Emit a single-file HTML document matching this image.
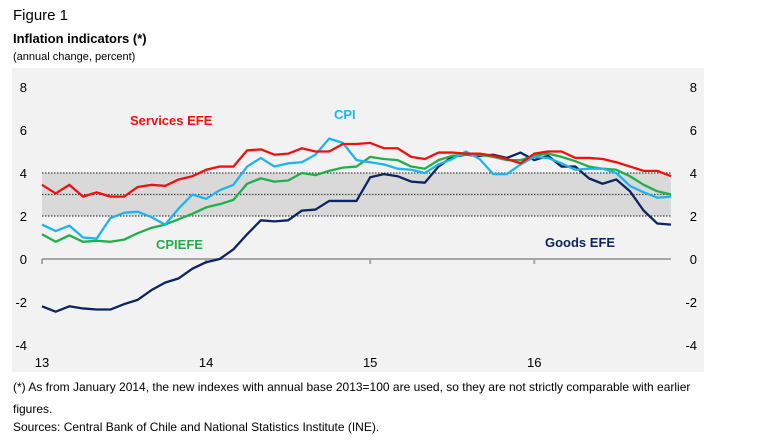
<!DOCTYPE html>
<html><head><meta charset="utf-8"><style>
body{margin:0;width:767px;height:445px;background:#fff;font-family:"Liberation Sans",sans-serif;position:relative;overflow:hidden}
.t{position:absolute;white-space:nowrap;color:#000}
</style></head><body>
<div class="t" style="left:13px;top:7px;font-size:15px">Figure 1</div>
<div class="t" style="left:13px;top:31px;font-size:13px;font-weight:bold">Inflation indicators (*)</div>
<div class="t" style="left:13px;top:51px;font-size:11px">(annual change, percent)</div>
<svg id="c" style="position:absolute;left:0;top:0" width="767" height="445"></svg>
<div class="t" style="left:13px;top:376px;font-size:12px;line-height:22px;white-space:normal;width:700px">(*) As from January 2014, the new indexes with annual base 2013=100 are used, so they are not strictly comparable with earlier figures.</div>
<div class="t" style="left:13px;top:420px;font-size:12px">Sources: Central Bank of Chile and National Statistics Institute (INE).</div>
<script>
const services=[3.45,3.05,3.45,2.9,3.1,2.9,2.9,3.35,3.45,3.4,3.7,3.85,4.15,4.3,4.3,5.05,5.1,4.85,4.9,5.15,5.0,5.0,5.35,5.35,5.4,5.15,5.15,4.75,4.65,4.95,4.95,4.9,4.9,4.8,4.65,4.45,4.9,5.0,5.0,4.7,4.7,4.65,4.5,4.3,4.1,4.1,3.85];
const cpi=[1.6,1.3,1.55,1.0,0.95,1.9,2.15,2.2,1.95,1.6,2.35,3.0,2.8,3.2,3.45,4.3,4.7,4.3,4.45,4.5,4.85,5.6,5.4,4.6,4.5,4.4,4.2,4.15,4.0,4.4,4.65,5.0,4.65,3.95,3.95,4.4,4.75,4.7,4.45,4.15,4.2,4.2,4.0,3.4,3.1,2.85,2.9];
const cpiefe=[1.15,0.8,1.1,0.8,0.85,0.8,0.9,1.2,1.45,1.6,1.85,2.1,2.4,2.55,2.75,3.5,3.75,3.6,3.65,4.0,3.9,4.1,4.25,4.3,4.75,4.65,4.6,4.3,4.2,4.6,4.8,4.85,4.85,4.75,4.6,4.6,4.8,4.9,4.75,4.55,4.3,4.2,4.15,3.85,3.45,3.15,3.0];
const goods=[-2.2,-2.45,-2.2,-2.3,-2.35,-2.35,-2.1,-1.9,-1.45,-1.1,-0.9,-0.45,-0.15,0,0.45,1.15,1.8,1.75,1.8,2.25,2.3,2.7,2.7,2.7,3.8,3.95,3.85,3.6,3.55,4.3,4.75,4.85,4.8,4.85,4.7,4.95,4.6,4.8,4.3,4.3,3.75,3.5,3.7,3.15,2.25,1.65,1.6];
const yTicks=[8,6,4,2,0,-2,-4];
const xYears=["13","14","15","16"];
const targetBand=[2,4];
const NS="http://www.w3.org/2000/svg";
const svg=document.getElementById('c');
const X=i=>42+i*(629/46);
const Y=v=>259-v*21.5;
function mk(tag,attrs,parent){const e=document.createElementNS(NS,tag);for(const k in attrs)e.setAttribute(k,attrs[k]);(parent||svg).appendChild(e);return e;}
let bg=mk('rect',{x:12,y:68,width:692,height:304,fill:'#f2f2f2'});


let band=mk('rect',{x:X(0),y:Y(targetBand[1]),width:X(46)-X(0),height:Y(targetBand[0])-Y(targetBand[1]),fill:'#d9d9d9'});


[targetBand[0],(targetBand[0]+targetBand[1])/2,targetBand[1]].forEach(v=>{
  let l=mk('line',{x1:X(0),x2:X(46),y1:Y(v),y2:Y(v),stroke:'#444','stroke-width':1.2,'stroke-dasharray':'1.5,1.5'});
  
  
});
let ax=mk('line',{x1:X(0),x2:X(46),y1:Y(0),y2:Y(0),stroke:'#a6a6a6','stroke-width':2});


xYears.forEach((yr,k)=>{
  const x=X(k*12);
  let tk=mk('line',{x1:x,x2:x,y1:Y(0),y2:Y(0)+5,stroke:'#a6a6a6','stroke-width':2});
  
  
  let t=mk('text',{x:x,y:367,'text-anchor':'middle','font-size':13,'font-family':'Liberation Sans, sans-serif'});
  t.textContent=yr;
  
  
});
yTicks.forEach(v=>{
  let a=mk('text',{x:27,y:Y(v)+5,'text-anchor':'end','font-size':13,'font-family':'Liberation Sans, sans-serif'});
  a.textContent=v;
  
  
  let b=mk('text',{x:697,y:Y(v)+5,'text-anchor':'end','font-size':13,'font-family':'Liberation Sans, sans-serif'});
  b.textContent=v;
  
  
});
function line(data,color,name){
  let p=mk('polyline',{points:data.map((v,i)=>X(i)+','+Y(v)).join(' '),fill:'none',stroke:color,'stroke-width':2.3,'stroke-linejoin':'round'});
  
  
}
line(goods,'#0c2461','goods-efe-line');
line(cpiefe,'#1fb04b','cpiefe-line');
line(cpi,'#1eb4ee','cpi-line');
line(services,'#f01010','services-efe-line');
function lab(txt,x,y,color,name){
  let t=mk('text',{x:x,y:y,fill:color,'font-size':13,'font-weight':'bold','font-family':'Liberation Sans, sans-serif'});
  t.textContent=txt;
  
  
}
lab('Services EFE',130,125,'#f01010','services-efe-label');
lab('CPI',334,119,'#1eb4ee','cpi-label');
lab('CPIEFE',156,249,'#1fb04b','cpiefe-label');
lab('Goods EFE',545,247,'#0c2461','goods-efe-label');
</script>
</body></html>
